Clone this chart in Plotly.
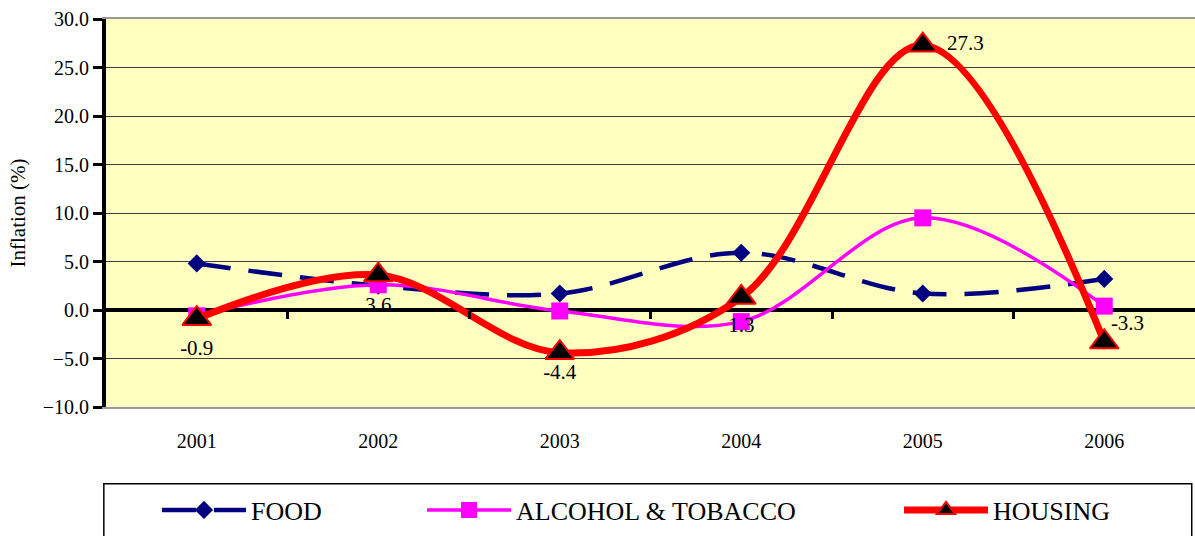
import plotly.graph_objects as go

years = ["2001", "2002", "2003", "2004", "2005", "2006"]
food = [4.8, 2.5, 1.7, 5.9, 1.7, 3.2]
alcohol = [-0.6, 2.6, -0.1, -1.2, 9.5, 0.4]
housing = [-0.9, 3.6, -4.4, 1.3, 27.3, -3.3]
housing_labels = ["-0.9", "3.6", "-4.4", "1.3", "27.3", "-3.3"]
label_positions = ["bottom center", "bottom center", "bottom center",
                   "bottom center", "middle right", "top right"]
# invisible marker sizes used only to set how far each label sits from its point
label_offsets = [32, 32, 15, 28, 37, 9]
y_ticks = [-10, -5, 0, 5, 10, 15, 20, 25, 30]

FONT = "Liberation Serif"

fig = go.Figure()
fig.add_trace(go.Scatter(
    x=years, y=food, name="FOOD", mode="lines+markers",
    line=dict(color="#000080", width=4.5, dash="34px,18px", shape="spline", smoothing=1),
    marker=dict(symbol="diamond", size=14, color="#000080"),
    legend="legend",
))
fig.add_trace(go.Scatter(
    x=years, y=alcohol, name="ALCOHOL & TOBACCO", mode="lines+markers",
    line=dict(color="#FF00FF", width=3.5, shape="spline", smoothing=1),
    marker=dict(symbol="square", size=17, color="#FF00FF"),
    legend="legend2",
))
fig.add_trace(go.Scatter(
    x=years, y=housing, name="HOUSING", mode="lines+markers",
    line=dict(color="#FF0000", width=7, shape="spline", smoothing=1),
    marker=dict(symbol="triangle-up", size=25, color="#000000",
                line=dict(color="#FF0000", width=2)),
    legend="legend3",
))
# data labels of HOUSING
fig.add_trace(go.Scatter(
    x=years, y=housing, mode="markers+text", text=housing_labels,
    textposition=label_positions,
    textfont=dict(family=FONT, size=21, color="black"),
    marker=dict(size=label_offsets, opacity=0),
    showlegend=False, hoverinfo="skip",
))
# invisible trace to host the zero-line tick axis
fig.add_trace(go.Scatter(x=[0], y=[0], xaxis="x2", yaxis="y", mode="markers",
                         marker=dict(opacity=0), showlegend=False, hoverinfo="skip"))

fig.update_layout(
    width=1195, height=536,
    margin=dict(l=106, r=0, t=19, b=129),
    paper_bgcolor="white",
    plot_bgcolor="#FFFFC0",
    font=dict(family=FONT, size=20, color="black"),
    xaxis=dict(
        type="category", range=[-0.5, 5.5], showgrid=False,
        showline=True, linecolor="#999999", linewidth=2, mirror=True,
        ticks="", ticklabelstandoff=15,
        tickfont=dict(family=FONT, size=20),
    ),
    xaxis2=dict(
        overlaying="x", anchor="free", position=0.25, range=[-0.5, 5.5],
        tickvals=[0.5, 1.5, 2.5, 3.5, 4.5], ticks="outside", ticklen=8,
        tickwidth=3, tickcolor="black", showticklabels=False,
        showgrid=False, showline=False, zeroline=False,
    ),
    yaxis=dict(
        range=[-10, 30], tickvals=y_ticks, tickformat=".1f",
        showgrid=True, gridcolor="#404040", gridwidth=1,
        showline=True, linecolor="black", linewidth=4,
        ticks="outside", ticklen=9, tickwidth=3, tickcolor="black",
        zeroline=True, zerolinecolor="black", zerolinewidth=4,
        tickfont=dict(family=FONT, size=20),
        title=dict(text="Inflation (%)", font=dict(family=FONT, size=21), standoff=12),
    ),
    showlegend=True,
)

leg_common = dict(orientation="h", yanchor="middle", xanchor="left", y=-0.2655,
                  bgcolor="rgba(0,0,0,0)", borderwidth=0, itemwidth=84,
                  font=dict(family=FONT, size=26, color="black"))
fig.update_layout(
    legend=dict(x=0.0468, **leg_common),
    legend2=dict(x=0.2902, **leg_common),
    legend3=dict(x=0.7282, **leg_common),
)

fig.add_shape(type="rect", xref="paper", yref="paper",
              x0=-0.002, x1=0.997, y0=-0.198, y1=-0.36,
              line=dict(color="black", width=1.5), fillcolor="rgba(0,0,0,0)")

fig.write_html("out.html")
